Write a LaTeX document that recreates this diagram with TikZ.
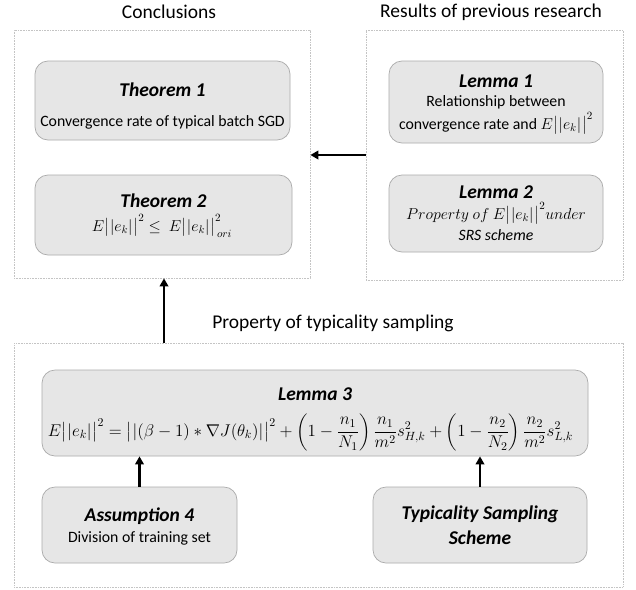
\RequirePackage{fix-cm}
\documentclass[tikz,border=0pt]{standalone}
\usepackage{amsmath}
\usepackage{graphicx}
\usepackage{fontspec}
\setmainfont{Carlito}
\usetikzlibrary{arrows.meta}
\definecolor{boxfill}{HTML}{E6E6E6}
\definecolor{boxline}{HTML}{ABABAB}
\definecolor{outerline}{HTML}{C4C4C4}
\tikzset{
  outerbox/.style={draw=outerline, dash pattern=on 0.8pt off 0.8pt, line width=0.7pt, inner sep=0pt},
  card/.style={draw=boxline, fill=boxfill, line width=0.7pt, rounded corners=13pt, inner sep=0pt},
  txt/.style={inner sep=0pt, font=\fontsize{15.8}{19}\selectfont},
  ttl/.style={inner sep=0pt, font=\fontsize{19.5}{23}\selectfont\bfseries\itshape},
  grp/.style={inner sep=0pt, font=\fontsize{19.5}{23}\selectfont},
  arr/.style={line width=2.2pt, -{Triangle[length=8pt,width=8.5pt]}}
}
\newcommand{\ek}{E\bigl|\mkern1mu|e_k|\mkern1mu\bigr|}
\begin{document}
\begin{tikzpicture}[x=1pt,y=-1pt]
\useasboundingbox[fill=white] (0,0) rectangle (636,589);
% group titles
\node[grp] (tc) at (169,12) {Conclusions};
\node[grp] (tr) at (491,12) {Results of previous research};
\node[grp] (tp) at (333,323) {Property of typicality sampling};
% outer boxes
\node[outerbox, minimum width=296pt, minimum height=248pt] (conc) at (162,154) {};
\node[outerbox, minimum width=257pt, minimum height=250pt] (prev) at (494.5,155) {};
\node[outerbox, minimum width=609pt, minimum height=244pt] (prop) at (318.5,465) {};
% Theorem 1
\node[card, minimum width=255pt, minimum height=79pt] (t1) at (162.5,100.5) {};
\node[ttl] (t1a) at (162.5,90) {Theorem 1};
\node[txt] (t1b) at (162.5,122) {Convergence rate of typical batch SGD};
% Theorem 2
\node[card, minimum width=257pt, minimum height=80pt] (t2) at (163.5,215) {};
\node[ttl] (t2a) at (163.5,201) {Theorem 2};
\node[txt, anchor=base] (t2b) at (162,231) {$\ek^2 \le\ \ek^2_{\,ori}$};
% Lemma 1
\node[card, minimum width=214pt, minimum height=82pt] (l1) at (496,102) {};
\node[ttl] (l1a) at (496,81) {Lemma 1};
\node[txt] (l1b) at (496,102) {Relationship between};
\node[txt, anchor=base] (l1c) at (496,129) {convergence rate and $\ek^2$};
% Lemma 2
\node[card, minimum width=214pt, minimum height=77pt] (l2) at (496,213.5) {};
\node[ttl] (l2a) at (496,192) {Lemma 2};
\node[txt, anchor=base] (l2b) at (496,219) {$Property\ of\ \ek^2 under$};
\node[txt, font=\fontsize{15.8}{19}\selectfont\itshape] (l2c) at (496,235) {SRS scheme};
% Lemma 3
\node[card, minimum width=546pt, minimum height=86pt] (l3) at (315,413) {};
\node[ttl] (l3a) at (315,394) {Lemma 3};
\node[txt] (l3b) at (310.5,432) {\resizebox{525pt}{!}{$\displaystyle \ek^2=\bigl|\mkern1mu|(\beta-1)*\nabla J(\theta_k)|\mkern1mu\bigr|^2+\left(1-\frac{n_1}{N_1}\right)\frac{n_1}{m^2}s_{H,k}^2+\left(1-\frac{n_2}{N_2}\right)\frac{n_2}{m^2}s_{L,k}^2$}};
% Assumption 4
\node[card, minimum width=195pt, minimum height=76pt] (a4) at (139.5,525) {};
\node[ttl] (a4a) at (139.5,516) {Assumption 4};
\node[txt] (a4b) at (139.5,538) {Division of training set};
% Typicality Sampling Scheme
\node[card, minimum width=214pt, minimum height=76pt] (tss) at (480,525) {};
\node[ttl] (tssa) at (480,514) {Typicality Sampling};
\node[ttl] (tssb) at (480,538) {Scheme};
% connectors
\draw[arr] (prev.west) -- (prev.west -| conc.east);
\draw[arr] ([xshift=2pt]conc.south |- prop.north) -- ([xshift=2pt]conc.south);
\draw[arr] (a4.north) -- (a4.north |- l3.south);
\draw[arr] (tss.north) -- (tss.north |- l3.south);
\end{tikzpicture}
\end{document}
